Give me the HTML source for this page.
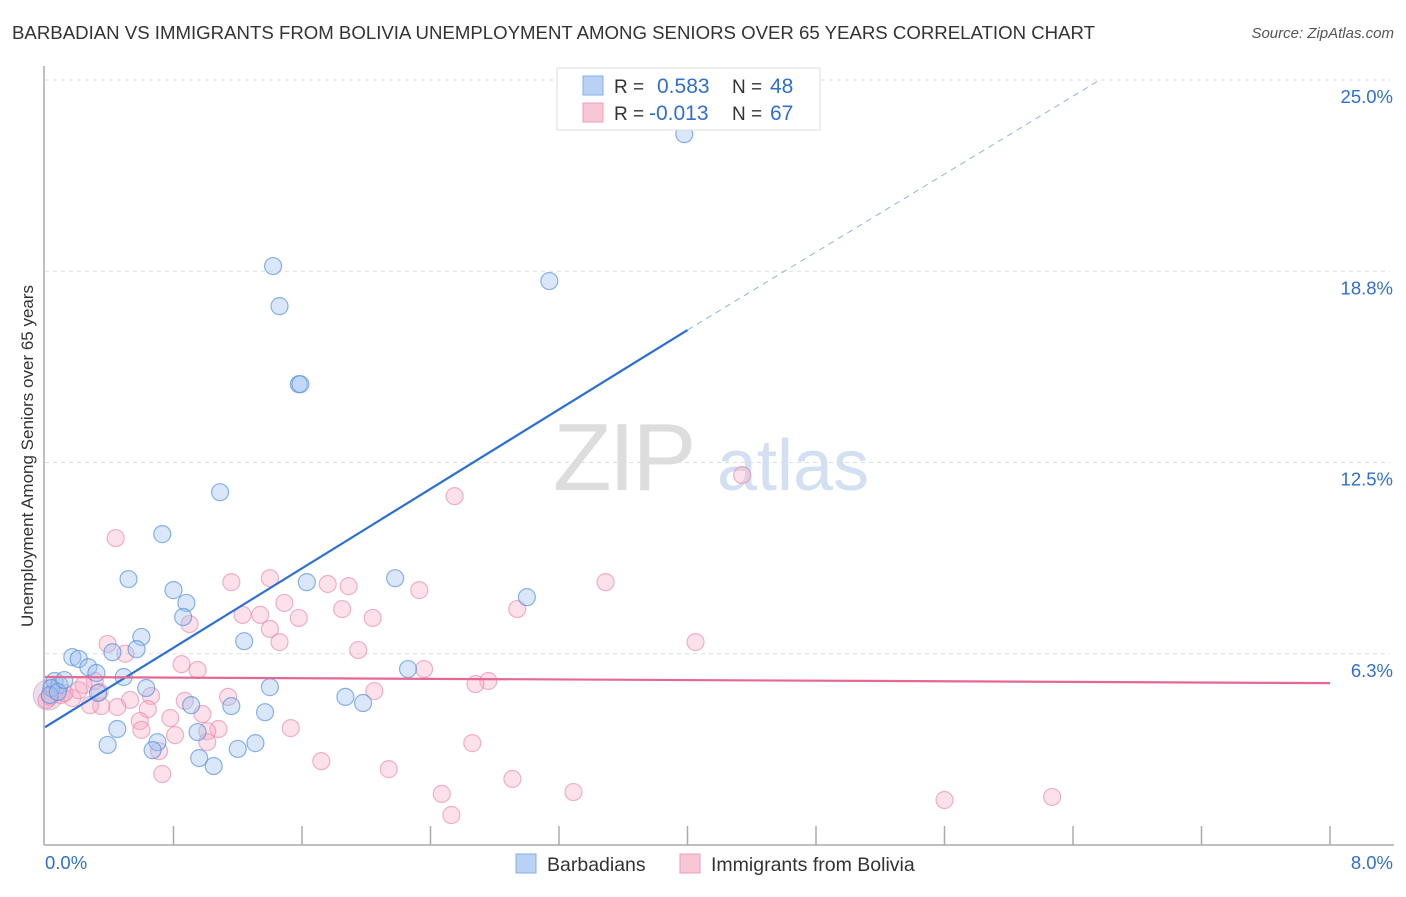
<!DOCTYPE html>
<html><head><meta charset="utf-8"><style>
body{margin:0;background:#fff;font-family:"Liberation Sans",sans-serif;}
svg text{font-family:"Liberation Sans",sans-serif;}
</style></head><body>
<svg id="chart" width="1406" height="892" xmlns="http://www.w3.org/2000/svg">
<text x="12" y="39" font-size="18" fill="#333" textLength="1083" lengthAdjust="spacingAndGlyphs">BARBADIAN VS IMMIGRANTS FROM BOLIVIA UNEMPLOYMENT AMONG SENIORS OVER 65 YEARS CORRELATION CHART</text>
<text x="1394" y="38" font-size="15" fill="#555" text-anchor="end" font-style="italic">Source: ZipAtlas.com</text>
<text transform="translate(33,456) rotate(-90)" font-size="17" fill="#333" text-anchor="middle">Unemployment Among Seniors over 65 years</text>
<g>
<text x="553" y="490" font-size="96" fill="#ddd" font-family="Liberation Serif" letter-spacing="-3">ZIP</text>
<text x="717" y="490" font-size="72" fill="#d3e0f2">atlas</text>
</g>
<g id="grid"></g><g id="axes"></g><g id="pts"></g><g id="lines"></g>
<g>
<rect x="557" y="68" width="263" height="62" fill="#fff" stroke="#ddd"/>
<rect x="583" y="76" width="20" height="19" fill="#b9d1f4" stroke="#86aee6"/>
<rect x="583" y="103" width="20" height="19" fill="#f8c7d5" stroke="#ee9fb9"/>
<text x="614" y="93" font-size="19" fill="#333">R = </text><text x="657" y="93" font-size="21" fill="#2f6fd1">0.583</text>
<text x="732" y="93" font-size="19" fill="#333">N = </text><text x="770" y="93" font-size="21" fill="#2f6fd1">48</text>
<text x="614" y="120" font-size="19" fill="#333">R = </text><text x="649" y="120" font-size="21" fill="#2f6fd1">-0.013</text>
<text x="732" y="120" font-size="19" fill="#333">N = </text><text x="770" y="120" font-size="21" fill="#2f6fd1">67</text>
</g>
<g>
<rect x="516" y="854" width="20" height="19" fill="#b9d1f4" stroke="#86aee6"/>
<text x="547" y="871" font-size="19.5" fill="#333">Barbadians</text>
<rect x="680" y="854" width="20" height="19" fill="#f8c7d5" stroke="#ee9fb9"/>
<text x="711" y="871" font-size="19.5" fill="#333">Immigrants from Bolivia</text>
</g>
</svg>
<script>
const yTicks=[6.25,12.5,18.75,25];
const yTickLabels=["6.3%","12.5%","18.8%","25.0%"];
const xTickLabels=["0.0%","8.0%"];
const blueX=[3.98,1.42,1.46,3.14,1.58,1.59,1.09,0.73,0.52,0.80,0.88,0.86,0.60,1.24,0.57,0.42,1.63,2.18,3.0,0.17,0.21,0.27,0.32,0.06,0.09,0.04,0.33,0.63,0.49,1.40,2.26,1.87,1.98,0.91,1.16,1.37,0.45,0.95,0.70,0.67,0.39,1.20,1.31,0.96,1.05,0.03,0.08,0.12];
const blueY=[23.23,18.92,17.61,18.43,15.06,15.06,11.53,10.16,8.69,8.33,7.91,7.45,6.80,6.66,6.40,6.30,8.59,8.72,8.10,6.14,6.08,5.81,5.62,5.36,5.23,5.13,4.97,5.13,5.49,5.16,5.75,4.84,4.64,4.57,4.54,4.34,3.79,3.69,3.36,3.10,3.27,3.14,3.33,2.84,2.58,4.90,5.00,5.39];
const pinkX=[0.44,4.34,2.55,3.49,1.16,1.40,1.76,1.89,2.33,1.49,1.85,1.23,1.34,1.58,2.04,2.94,0.90,1.40,1.46,0.39,0.50,4.05,1.95,0.85,0.95,2.36,2.76,2.68,2.05,0.31,0.24,0.10,0.17,0.66,0.87,1.14,0.53,0.35,0.45,0.28,0.64,0.98,0.78,0.59,1.08,1.01,1.53,0.81,0.60,1.01,2.66,0.71,1.72,2.14,2.91,0.73,2.47,3.29,5.60,6.27,2.53,0.03,0.06,0.12,0.01,0.21,0.34];
const pinkY=[10.03,12.09,11.40,8.59,8.59,8.72,8.53,8.46,8.33,7.91,7.71,7.52,7.52,7.42,7.42,7.71,7.22,7.06,6.63,6.57,6.25,6.63,6.37,5.91,5.72,5.75,5.36,5.26,5.03,5.36,5.23,4.90,4.80,4.87,4.71,4.84,4.74,4.54,4.51,4.57,4.44,4.28,4.15,4.05,3.79,3.72,3.82,3.59,3.76,3.36,3.33,3.07,2.74,2.48,2.16,2.32,1.67,1.73,1.47,1.57,0.98,4.84,5.06,4.97,4.74,5.06,5.00];
const blueLine=[[0,3.85],[4.0,16.83]];
const blueDash=[[4.0,16.83],[6.55,24.95]];
const pinkLine=[[0,5.49],[8,5.29]];
const X0=45,X1=1330,Y0=845,Y25=80;
const xs=v=>X0+v*(X1-X0)/8;
const ys=v=>Y0-v*(Y0-Y25)/25;
const NS="http://www.w3.org/2000/svg";
function mk(tag,attrs,parent){const e=document.createElementNS(NS,tag);for(const k in attrs)e.setAttribute(k,attrs[k]);document.getElementById(parent).appendChild(e);return e;}
yTicks.forEach((t,i)=>{
 const g=mk('line',{x1:X0,x2:X1+60,y1:ys(t),y2:ys(t),stroke:'#ddd','stroke-dasharray':'4,4'},'grid');
 
 
 const tx=mk('text',{x:1393,y:ys(t)+23,'font-size':18.5,fill:'#2f6fd1','text-anchor':'end'},'grid');
 tx.textContent=yTickLabels[i];
 
 
});
const ax=mk('line',{x1:44,x2:44,y1:66,y2:Y0,stroke:'#aaa','stroke-width':1.5},'axes');


const bx=mk('line',{x1:44,x2:1394,y1:Y0,y2:Y0,stroke:'#aaa','stroke-width':1.5},'axes');


for(let i=1;i<=10;i++){
 const t=mk('line',{x1:xs(i*0.8),x2:xs(i*0.8),y1:826,y2:Y0,stroke:'#aaa','stroke-width':1.5},'axes');
 
 
}
const xl0=mk('text',{x:45,y:869,'font-size':18.5,fill:'#2f6fd1'},'axes');xl0.textContent=xTickLabels[0];


const xl1=mk('text',{x:1393,y:869,'font-size':18.5,fill:'#2f6fd1','text-anchor':'end'},'axes');xl1.textContent=xTickLabels[1];


const big=mk('circle',{cx:xs(0.02),cy:ys(4.9),r:15,fill:'rgba(200,160,200,0.35)',stroke:'rgba(200,150,200,0.6)'},'pts');


pinkX.forEach((v,i)=>{
 const c=mk('circle',{cx:xs(v),cy:ys(pinkY[i]),r:8.5,fill:'rgba(245,170,195,0.35)',stroke:'rgba(232,130,165,0.6)','stroke-width':1.2},'pts');
 
 
});
blueX.forEach((v,i)=>{
 const c=mk('circle',{cx:xs(v),cy:ys(blueY[i]),r:8.5,fill:'rgba(160,195,240,0.4)',stroke:'rgba(80,140,220,0.65)','stroke-width':1.2},'pts');
 
 
});
const l1=mk('line',{x1:xs(blueLine[0][0]),y1:ys(blueLine[0][1]),x2:xs(blueLine[1][0]),y2:ys(blueLine[1][1]),stroke:'#2a6fd6','stroke-width':2.2},'lines');


const l2=mk('line',{x1:xs(blueDash[0][0]),y1:ys(blueDash[0][1]),x2:xs(blueDash[1][0]),y2:ys(blueDash[1][1]),stroke:'#8fb3e6','stroke-width':1,'stroke-dasharray':'6,5'},'lines');


const l3=mk('line',{x1:xs(pinkLine[0][0]),y1:ys(pinkLine[0][1]),x2:xs(pinkLine[1][0]),y2:ys(pinkLine[1][1]),stroke:'#e46893','stroke-width':2.2},'lines');


</script>
</body></html>
